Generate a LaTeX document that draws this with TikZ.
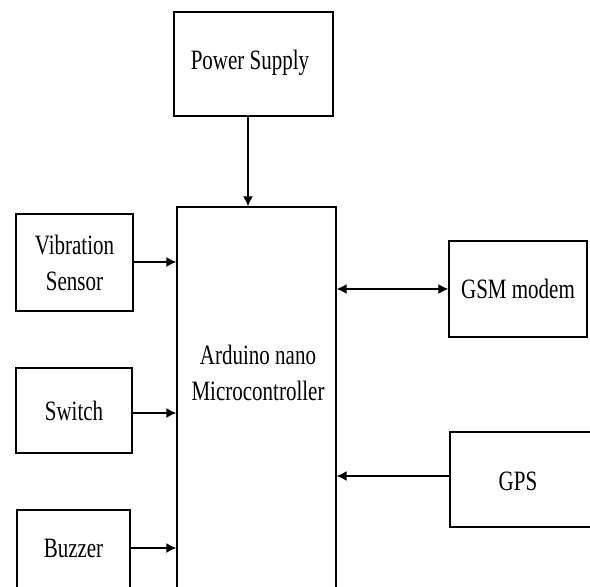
\documentclass[tikz,border=0pt]{standalone}
\usepackage{fontspec}
\setmainfont[FakeStretch=0.75]{Liberation Serif}
\usetikzlibrary{arrows.meta,positioning}

\begin{document}
\begin{tikzpicture}[x=1pt, y=-1pt,
        blk/.style={draw, line width=1.3pt, inner sep=0pt, align=center,
                    font=\fontsize{28}{36}\selectfont},
        txt/.style={inner sep=0pt, align=center, font=\fontsize{28}{36}\selectfont},
        arr/.style={line width=1.5pt, -{Latex[length=10pt,width=10pt]}},
        darr/.style={line width=1.5pt, {Latex[length=10pt,width=10pt]}-{Latex[length=10pt,width=10pt]}}]

        % Frame
        \clip (0,0) rectangle (590,587);

        % Blocks
        \node[blk, minimum width=159, minimum height=104] (ps) at (253.5,64) {};
        \node[txt] (pstxt) at (250,63) {Power Supply};
        \node[blk, minimum width=159, minimum height=413] (ard) at (256.5,413.5) {};
        \node[txt] (ardtxt) at (258,373) {Arduino nano\\Microcontroller};

        \node[blk, minimum width=117, minimum height=97] (vib) at (74.5,262.5) {Vibration\\Sensor};
        \node[blk, minimum width=116, minimum height=85] (sw) at (74,410.5) {Switch};
        \node[blk, minimum width=113, minimum height=80] (buz) at (73.5,550) {};
        \node[txt] (buztxt) at (73.5,548) {Buzzer};

        \node[blk, minimum width=138, minimum height=96] (gsm) at (518,289) {GSM modem};
        \node[blk, minimum width=146, minimum height=95] (gps) at (523,479.5) {};
        \node[txt] (gpstxt) at (518,481) {GPS};

        % Connections
        \draw[arr] ([xshift=-5.5pt]ps.south) -- ([xshift=-5.5pt]ps.south |- ard.north);
        \draw[arr] ([yshift=0.5pt]vib.east) -- ([yshift=0.5pt]vib.east -| ard.west);
        \draw[arr] ([yshift=-2.5pt]sw.east) -- ([yshift=-2.5pt]sw.east -| ard.west);
        \draw[arr] (buztxt.east -| buz.east) -- (buztxt.east -| ard.west);
        \draw[darr] (ard.east |- gsm.west) -- (gsm.west);
        \draw[arr] ([yshift=3.5pt]gps.west) -- ([yshift=3.5pt]gps.west -| ard.east);

    \end{tikzpicture}
\end{document}
